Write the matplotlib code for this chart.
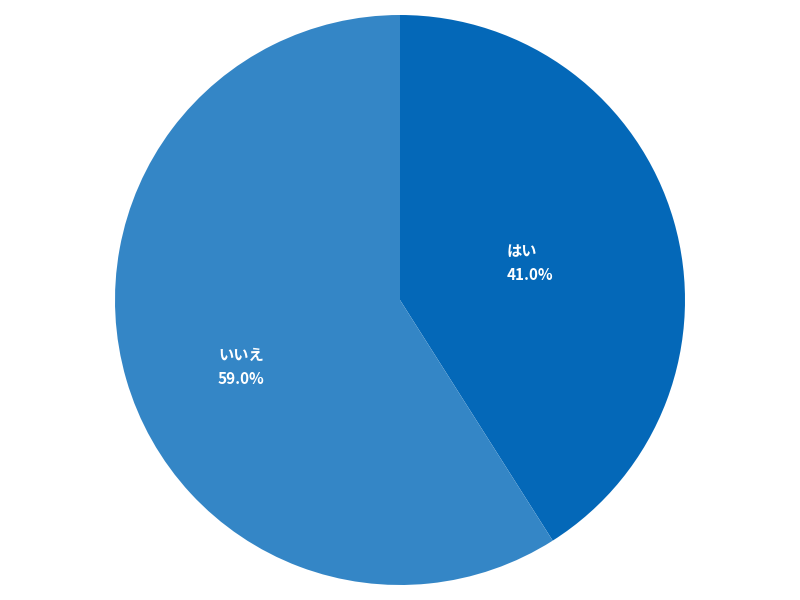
import matplotlib
matplotlib.use("Agg")
import matplotlib.pyplot as plt

plt.rcParams['font.family'] = ['Noto Sans CJK JP', 'DejaVu Sans']

labels = ['はい', 'いいえ']
values = [41.0, 59.0]
colors = ['#0468b8', '#3486c6']

fig = plt.figure(figsize=(8, 6), dpi=100)
ax = fig.add_axes([0, 0, 1, 1])
R = 285
ax.pie(values, colors=colors, startangle=90, counterclock=False,
       wedgeprops=dict(linewidth=0))
ax.set_xlim(-400 / R, 400 / R)
ax.set_ylim(-300 / R, 300 / R)
ax.set_aspect('equal')
ax.axis('off')

# label anchor positions (left edge, vertical center) in axes pixel offsets
anchors = [(507, 263), (218, 367)]
for (lab, v), (px, py) in zip(zip(labels, values), anchors):
    ax.text((px - 400) / R, (300 - py) / R, f"{lab}\n{v:.1f}%",
            color='white', fontsize=11, fontweight='bold',
            ha='left', va='center', linespacing=1.6)

fig.savefig('out.png', dpi=100)
